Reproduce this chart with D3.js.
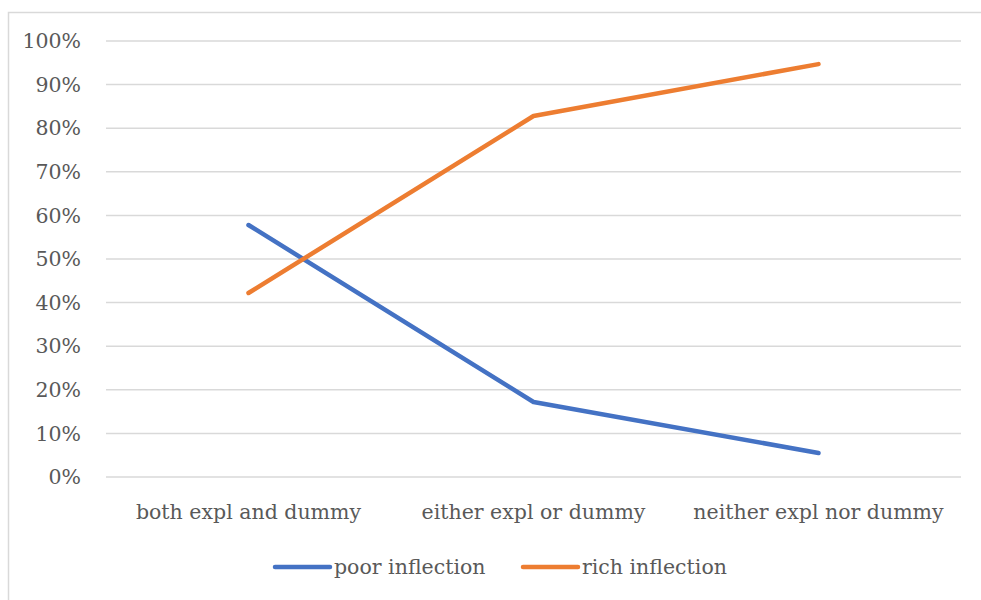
<!DOCTYPE html>
<html>
<head>
<meta charset="utf-8">
<script src="https://cdn.jsdelivr.net/npm/d3@7"></script>
<style>
  body { margin: 0; background: #fff; }
  svg { display: block; }
</style>
</head>
<body>
<div id="chart"></div>
<script>
const categories = ["both expl and dummy", "either expl or dummy", "neither expl nor dummy"];
const poorInflection = [0.578, 0.172, 0.055];
const richInflection = [0.422, 0.828, 0.947];
const yTicks = [0, 0.1, 0.2, 0.3, 0.4, 0.5, 0.6, 0.7, 0.8, 0.9, 1.0];

const series = [
  { name: "poor inflection", values: poorInflection, color: "#4472C4" },
  { name: "rich inflection", values: richInflection, color: "#ED7D31" }
];

const font = "DejaVu Serif";
const fontSize = "20.5px";
const textColor = "#595959";

const width = 981, height = 600;
const svg = d3.select("#chart").append("svg")
  .attr("width", width)
  .attr("height", height)
  .attr("font-family", font)
  .attr("font-size", fontSize);

// chart border
svg.append("rect")
  .attr("x", 8.5).attr("y", 12.5)
  .attr("width", 990).attr("height", 600)
  .attr("fill", "none")
  .attr("stroke", "#d9d9d9")
  .attr("stroke-width", 1.5);

const x = d3.scaleBand().domain(categories).range([106, 961]);
const y = d3.scaleLinear().domain([0, 1]).range([477, 41]);

// gridlines
svg.append("g")
  .selectAll("line")
  .data(yTicks)
  .join("line")
  .attr("x1", 106).attr("x2", 961)
  .attr("y1", d => y(d)).attr("y2", d => y(d))
  .attr("stroke", "#d9d9d9")
  .attr("stroke-width", 1.5);

// y labels
svg.append("g")
  .selectAll("text")
  .data(yTicks)
  .join("text")
  .attr("x", 81)
  .attr("y", d => y(d))
  .attr("dy", "0.35em")
  .attr("text-anchor", "end")
  .attr("fill", textColor)
  .text(d => d3.format(".0%")(d));

// x labels
svg.append("g")
  .selectAll("text")
  .data(categories)
  .join("text")
  .attr("x", d => x(d) + x.bandwidth() / 2)
  .attr("y", 519)
  .attr("text-anchor", "middle")
  .attr("fill", textColor)
  .text(d => d);

const line = d3.line()
  .x((d, i) => x(categories[i]) + x.bandwidth() / 2)
  .y(d => y(d));

svg.append("g")
  .selectAll("path")
  .data(series)
  .join("path")
  .attr("d", d => line(d.values))
  .attr("fill", "none")
  .attr("stroke", d => d.color)
  .attr("stroke-width", 4.5)
  .attr("stroke-linecap", "round")
  .attr("stroke-linejoin", "round");

// legend
const legendX = [275, 523];
const lg = svg.append("g")
  .selectAll("g")
  .data(series)
  .join("g")
  .attr("transform", (d, i) => `translate(${legendX[i]},567)`);

lg.append("line")
  .attr("x1", 0).attr("x2", 55)
  .attr("stroke", d => d.color)
  .attr("stroke-width", 4.5)
  .attr("stroke-linecap", "round");

lg.append("text")
  .attr("x", 59)
  .attr("dy", "0.35em")
  .attr("fill", textColor)
  .text(d => d.name);
</script>
</body>
</html>
